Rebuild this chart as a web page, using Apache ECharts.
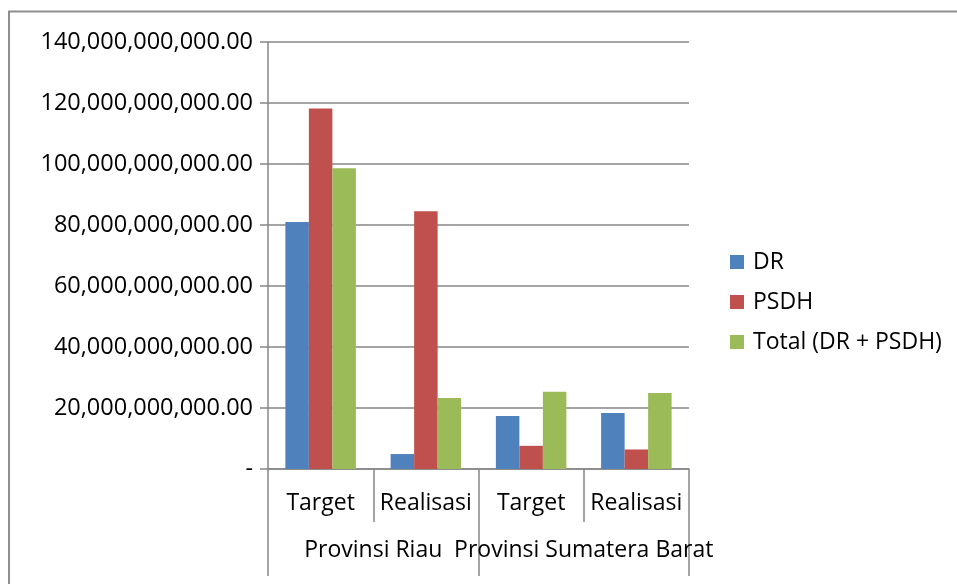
<!DOCTYPE html>
<html>
<head>
<meta charset="utf-8">
<script src="https://cdn.jsdelivr.net/npm/echarts@6/dist/echarts.min.js"></script>
<style>
  html, body { margin: 0; padding: 0; background: #fff; }
  #chart { width: 957px; height: 584px; }
</style>
</head>
<body>
<div id="chart"></div>
<script>
// Sub-categories (inner axis) and their provinces (outer axis)
const periods = ['Target', 'Realisasi', 'Target', 'Realisasi'];
const provinces = ['Provinsi Riau', 'Provinsi Sumatera Barat'];

// Values in rupiah
const drValues    = [81.0e9, 4.9e9, 17.4e9, 18.4e9];
const psdhValues  = [118.2e9, 84.5e9, 7.6e9, 6.4e9];
const totalValues = [98.6e9, 23.3e9, 25.3e9, 24.9e9];

const seriesNames = ['DR', 'PSDH', 'Total (DR + PSDH)'];
const colors = ['#4F81BD', '#C0504D', '#9BBB59'];

const FONT = '"Open Sans", "Noto Sans", sans-serif';
const GRAY = '#878787';
const TEXT = '#000';

function formatRupiah(v) {
  if (v === 0) return '-';
  const fixed = v.toFixed(2);
  const [intPart, dec] = fixed.split('.');
  return intPart.replace(/\B(?=(\d{3})+(?!\d))/g, ',') + '.' + dec;
}

const chart = echarts.init(document.getElementById('chart'), null, { renderer: 'canvas' });

chart.setOption({
  animation: false,
  backgroundColor: '#fff',
  color: colors,
  textStyle: { fontFamily: FONT },
  graphic: [{
    type: 'rect',
    shape: { x: 9, y: 11.5, width: 1000, height: 640 },
    style: { fill: 'none', stroke: '#8e8e8e', lineWidth: 2 },
    silent: true
  }],
  grid: { left: 268, top: 42, width: 421, height: 427, containLabel: false },
  legend: {
    orient: 'vertical',
    left: 725,
    top: 245,
    itemWidth: 14,
    itemHeight: 14,
    itemGap: 16,
    icon: 'rect',
    data: seriesNames,
    textStyle: { fontFamily: FONT, fontSize: 23, color: TEXT, lineHeight: 24, padding: [0, 0, 0, 4] }
  },
  xAxis: [{
    type: 'category',
    data: periods,
    position: 'bottom',
    axisLine: { show: true, lineStyle: { color: GRAY, width: 1.5 } },
    axisTick: { show: true, length: 53, interval: 0, lineStyle: { color: GRAY, width: 1.5 } },
    axisLabel: { interval: 0, margin: 23, fontFamily: FONT, fontSize: 23, color: TEXT }
  }, {
    type: 'category',
    data: provinces,
    position: 'bottom',
    offset: 0,
    axisLine: { show: false },
    axisTick: { show: true, length: 107, interval: 0, lineStyle: { color: GRAY, width: 1.5 } },
    axisLabel: { interval: 0, margin: 70, fontFamily: FONT, fontSize: 23, color: TEXT }
  }],
  yAxis: {
    type: 'value',
    min: 0,
    max: 140e9,
    interval: 20e9,
    axisLine: { show: true, lineStyle: { color: GRAY, width: 1.5 } },
    axisTick: { show: true, length: 8, lineStyle: { color: GRAY, width: 1.5 } },
    splitLine: { show: true, lineStyle: { color: GRAY, width: 1.5 } },
    axisLabel: { margin: 15, fontFamily: FONT, fontSize: 23.5, color: TEXT, formatter: formatRupiah }
  },
  series: [
    { name: seriesNames[0], type: 'bar', xAxisIndex: 0, data: drValues, barGap: '0%', barCategoryGap: '33%' },
    { name: seriesNames[1], type: 'bar', xAxisIndex: 0, data: psdhValues, barGap: '0%', barCategoryGap: '33%' },
    { name: seriesNames[2], type: 'bar', xAxisIndex: 0, data: totalValues, barGap: '0%', barCategoryGap: '33%' }
  ]
});
</script>
</body>
</html>
